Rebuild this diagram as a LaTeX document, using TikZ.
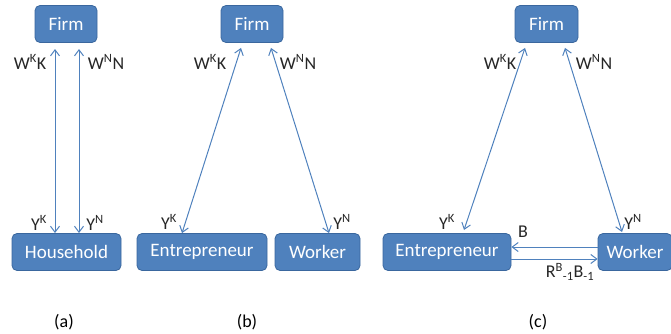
\documentclass[tikz,border=0pt]{standalone}
\usepackage{fontspec}
\setmainfont{Carlito}
\usetikzlibrary{arrows.meta}
\definecolor{boxblue}{HTML}{4F81BD}
\definecolor{boxline}{HTML}{3A679E}
\tikzset{
        x=1pt, y=-1pt,
        agent/.style={rectangle, rounded corners=5pt, draw=boxline, line width=0.8pt, fill=boxblue, text=white,
          minimum height=37pt, inner sep=0pt, font=\fontsize{19}{22}\selectfont},
        flow/.style={draw=boxblue, line width=1pt, {Straight Barb[length=6pt,width=9pt]}-{Straight Barb[length=6pt,width=9pt]}},
        oneway/.style={draw=boxblue, line width=1pt, -{Straight Barb[length=6pt,width=9pt]}},
        lbl/.style={inner sep=0pt, text=black!85, font=\fontsize{18}{20}\selectfont},
        caption/.style={inner sep=0pt, font=\fontsize{18}{20}\selectfont}
          }

\begin{document}
\begin{tikzpicture}
        \useasboundingbox (0,0) rectangle (671,333);
        % (a) one household
        \node[agent, minimum width=62pt] (firmA) at (66,24) {Firm};
        \node[agent, minimum width=109pt] (house) at (66.5,252) {Household};
        \draw[flow] (55,49) -- (55,233);
        \draw[flow] (79,49) -- (79,233);
        \node[lbl] (wkA) at (30,62) {W\textsuperscript{K}K};
        \node[lbl] (wnA) at (106,62) {W\textsuperscript{N}N};
        \node[lbl] (ykA) at (39,223) {Y\textsuperscript{K}};
        \node[lbl] (ynA) at (95,223) {Y\textsuperscript{N}};
        \node[caption] (capA) at (64,322) {(a)};
        % (b) entrepreneur and worker
        \node[agent, minimum width=62pt] (firmB) at (252,24) {Firm};
        \node[agent, minimum width=130pt] (entB) at (202,252) {Entrepreneur};
        \node[agent, minimum width=85pt] (workB) at (317.5,252) {Worker};
        \draw[flow] (firmB.south -| 241,0) ++(0,5) -- (entB.north -| 182,0);
        \draw[flow] (firmB.south -| 271,0) ++(0,5) -- (workB.north -| 329,0);
        \node[lbl] (wkB) at (210,62) {W\textsuperscript{K}K};
        \node[lbl] (wnB) at (298,62) {W\textsuperscript{N}N};
        \node[lbl] (ykB) at (169,222) {Y\textsuperscript{K}};
        \node[lbl] (ynB) at (342,222) {Y\textsuperscript{N}};
        \node[caption] (capB) at (247,322) {(b)};
        % (c) with lending between them
        \node[agent, minimum width=63pt] (firmC) at (546.5,24) {Firm};
        \node[agent, minimum width=128pt] (entC) at (447,252) {Entrepreneur};
        \node[agent, minimum width=74pt] (workC) at (635,252) {Worker};
        \draw[flow] (firmC.south -| 525,0) ++(0,5) -- (464,230);
        \draw[flow] (firmC.south -| 565,0) ++(0,5) -- (622,232);
        \draw[oneway] (workC.west |- 0,247) -- (entC.east |- 0,247);
        \draw[oneway] (entC.east |- 0,259) -- (workC.west |- 0,259);
        \node[lbl] (wkC) at (500,62) {W\textsuperscript{K}K};
        \node[lbl] (wnC) at (594,62) {W\textsuperscript{N}N};
        \node[lbl] (ykC) at (447,222) {Y\textsuperscript{K}};
        \node[lbl] (ynC) at (633,222) {Y\textsuperscript{N}};
        \node[lbl] (bC) at (523,232) {B};
        \node[lbl] (rbC) at (570,272) {R\textsuperscript{B}\textsubscript{-1}B\textsubscript{-1}};
        \node[caption] (capC) at (538,322) {(c)};
      \end{tikzpicture}
\end{document}
